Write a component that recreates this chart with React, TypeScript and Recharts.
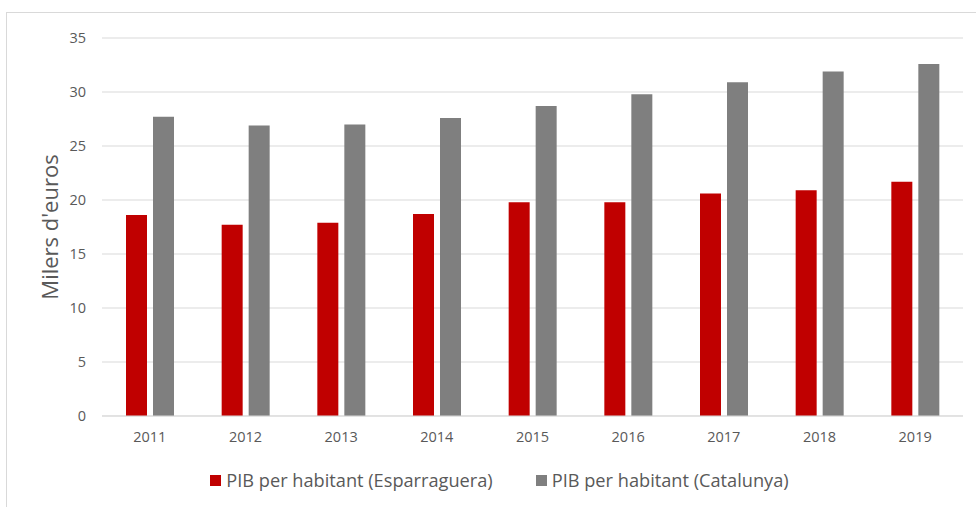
import React from "react";
import {
  BarChart,
  Bar,
  XAxis,
  YAxis,
  CartesianGrid,
} from "recharts";

const years = ["2011", "2012", "2013", "2014", "2015", "2016", "2017", "2018", "2019"];
const esparraguera = [18.6, 17.7, 17.9, 18.7, 19.8, 19.8, 20.6, 20.9, 21.7];
const catalunya = [27.7, 26.9, 27.0, 27.6, 28.7, 29.8, 30.9, 31.9, 32.6];
const yTicks = [0, 5, 10, 15, 20, 25, 30, 35];

const seriesNames = ["PIB per habitant (Esparraguera)", "PIB per habitant (Catalunya)"];
const seriesColors = ["#c00000", "#7f7f7f"];

const data = years.map((year, i) => ({
  year,
  esp: esparraguera[i],
  cat: catalunya[i],
}));

const textColor = "#595959";
const gridColor = "#d9d9d9";

const App = () => {
  return (
    <div
      style={{
        position: "fixed",
        left: 0,
        top: 0,
        width: 976,
        height: 507,
        background: "#fff",
        overflow: "hidden",
        fontFamily: "'Open Sans', sans-serif",
      }}
    >
      {/* chart frame */}
      <div
        style={{
          position: "absolute",
          left: 6,
          top: 12,
          width: 1100,
          height: 700,
          border: `1px solid ${gridColor}`,
        }}
      />
      <div style={{ position: "absolute", left: 0, top: 0 }}>
        <BarChart
          width={976}
          height={507}
          data={data}
          margin={{ top: 38, right: 13, bottom: 0, left: 0 }}
          barSize={21}
          barGap={6}
        >
          <CartesianGrid vertical={false} stroke={gridColor} />
          <XAxis
            dataKey="year"
            height={91}
            axisLine={{ stroke: gridColor }}
            tickLine={false}
            tickSize={0}
            tickMargin={16}
            tick={{ fill: textColor, fontSize: 14.5 }}
          />
          <YAxis
            width={102}
            domain={[0, 35]}
            ticks={yTicks}
            axisLine={false}
            tickLine={false}
            tickSize={0}
            tickMargin={16}
            tick={{ fill: textColor, fontSize: 14.5 }}
            label={{
              value: "Milers d'euros",
              angle: -90,
              position: "insideLeft",
              offset: 50,
              style: { textAnchor: "middle", fill: textColor, fontSize: 22 },
            }}
          />
          <Bar dataKey="esp" name={seriesNames[0]} fill={seriesColors[0]} isAnimationActive={false} />
          <Bar dataKey="cat" name={seriesNames[1]} fill={seriesColors[1]} isAnimationActive={false} />
        </BarChart>
      </div>
      {/* legend */}
      <div
        style={{
          position: "absolute",
          left: 0,
          top: 470,
          width: 999,
          height: 20,
          display: "flex",
          justifyContent: "center",
          alignItems: "center",
          gap: 43,
          color: textColor,
          fontSize: 18.2,
          lineHeight: "20px",
        }}
      >
        {seriesNames.map((name, i) => (
          <div key={name} style={{ display: "flex", alignItems: "center" }}>
            <span
              style={{
                display: "inline-block",
                width: 11,
                height: 11,
                background: seriesColors[i],
                marginRight: 5,
              }}
            />
            <span>{name}</span>
          </div>
        ))}
      </div>
    </div>
  );
};

export default App;
